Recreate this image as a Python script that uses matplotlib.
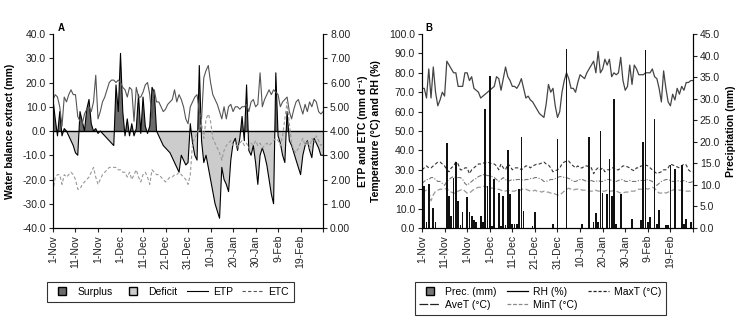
import matplotlib
matplotlib.use('Agg')
import matplotlib.pyplot as plt
import numpy as np
from matplotlib.lines import Line2D
from matplotlib.ticker import FormatStrFormatter

plt.rcParams['font.family'] = ['Liberation Sans', 'DejaVu Sans']
plt.rcParams['font.size'] = 7.5

# ---------------- data ----------------
tick_labels = ["1-Nov", "11-Nov", "1-Nov", "1-Dec", "11-Dec", "21-Dec", "31-Dec",
               "10-Jan", "20-Jan", "30-Jan", "9-Feb", "19-Feb"]

# Panel A: daily water balance (mm)
water_balance = [
    13, 5, -2, 8, -2, 1, 0, -2, -4, -6,
    -9, -10, 8, 4, 0, 9, 13, 3, 0, 1,
    -1, 0, -1, -2, -3, -4, -5, -6, 19, 8,
    32, 8, -2, 5, -2, 3, -2, 1, 15, -1,
    14, 2, -1, 2, 18, 16, 0, -2, -4, -6,
    -7, -8, -9, -11, -13, -15, -17, -10, -12, -14,
    -13, 3, -5, -10, -12, 27, -4, -13, -10, -15,
    -20, -25, -30, -33, -36, -15, -20, -22, -25, -12,
    -5, -3, -8, -3, 6, -4, 19, -8, -10, -6,
    -13, -22, -10, -7, -10, -14, -20, -26, -30, 24,
    -2, -5, -10, -13, 8, -4, -6, -9, -12, -15,
    -18, -10, -6, -4, -8, -11, -3, -5, -7, -10,
    -10]

# Panel A: ETP (mm/d)
etp = [
    5.3, 5.5, 5.4, 5.0, 4.2, 5.4, 5.2, 5.5, 5.7, 5.5,
    5.5, 4.6, 4.4, 4.3, 4.7, 4.9, 5.0, 4.8, 5.2, 6.3,
    4.5, 4.8, 5.2, 5.4, 5.7, 6.0, 6.1, 6.1, 6.0, 6.1,
    6.0, 5.8, 5.7, 5.4, 5.8, 5.7, 4.4, 5.8, 5.4, 5.4,
    5.6, 5.9, 6.0, 5.5, 4.5, 5.7, 5.2, 5.2, 5.0, 4.8,
    4.9, 5.1, 5.2, 5.3, 5.7, 5.2, 5.5, 5.3, 5.0, 4.5,
    4.3, 5.0, 5.2, 5.4, 5.5, 4.8, 4.5, 6.2, 6.5, 6.7,
    6.0, 5.5, 5.3, 5.1, 4.8, 4.5, 5.0, 4.5, 5.0, 5.1,
    4.8, 5.0, 5.0, 4.9, 5.0, 5.0, 5.1, 4.8, 5.2, 5.3,
    5.0, 5.1, 6.4, 5.0, 5.3, 5.5, 5.7, 5.5, 5.7, 5.6,
    5.5, 5.0, 5.2, 5.3, 5.4, 4.8, 4.5, 4.9, 5.2, 5.3,
    5.0, 4.7, 5.1, 4.8, 5.2, 5.0, 5.3, 5.2, 4.8, 4.7,
    4.8]

# Panel A: ETC (mm/d)
etc = [
    1.5, 2.1, 2.2, 2.2, 1.8, 2.2, 2.1, 2.2, 2.3, 2.2,
    2.0, 1.6, 1.6, 1.8, 1.9, 2.0, 2.1, 2.3, 2.5, 2.1,
    1.8, 2.0, 2.2, 2.3, 2.4, 2.5, 2.5, 2.5, 2.5, 2.4,
    2.4, 2.3, 2.3, 2.1, 2.3, 2.0, 2.2, 2.4, 2.1, 1.9,
    2.2, 2.3, 2.1, 1.8, 2.4, 2.3, 2.2, 2.2, 2.1, 2.0,
    1.9, 2.0, 2.1, 2.1, 2.2, 2.2, 2.3, 2.2, 2.1, 2.0,
    1.8, 2.2, 3.5, 3.7, 3.9, 4.1, 4.3, 3.7, 4.5, 4.7,
    4.4, 3.7, 3.5, 3.3, 3.1, 2.8, 3.2, 3.4, 3.5, 3.6,
    3.4, 3.5, 3.3, 3.5, 3.6, 3.4, 3.5, 3.3, 3.5, 3.4,
    3.6, 3.4, 3.5, 3.3, 3.4, 3.5, 3.4, 3.5, 3.6, 3.7,
    3.6, 3.4, 3.8, 4.5, 5.2, 4.3, 3.5, 3.2, 3.1, 3.3,
    3.5, 3.7, 3.4, 3.6, 3.3, 3.7, 3.5, 3.8, 3.6, 3.4,
    3.5]

# Panel B: relative humidity (%)
rh = [
    72, 72, 67, 82, 67, 83, 70, 63, 66, 70,
    68, 86, 84, 82, 80, 80, 73, 73, 73, 80,
    80, 76, 78, 72, 71, 70, 67, 68, 69, 70,
    71, 72, 73, 78, 77, 71, 77, 83, 78, 76,
    73, 73, 72, 74, 77, 72, 67, 68, 66, 65,
    63, 61, 59, 58, 57, 64, 74, 70, 72, 63,
    57, 60, 70, 76, 80, 77, 72, 72, 70, 75,
    79, 78, 77, 80, 82, 84, 86, 80, 91, 80,
    82, 87, 84, 87, 78, 80, 79, 80, 88, 76,
    71, 73, 84, 74, 84, 82, 79, 79, 79, 80,
    80, 80, 82, 78, 77, 72, 65, 81, 72, 65,
    63, 69, 66, 72, 69, 73, 71, 75, 75, 76,
    76]

max_t = [
    30, 31, 32, 31, 31, 32, 33, 34, 34, 33,
    32, 30, 29, 31, 32, 34, 33, 30, 30, 31,
    31, 28, 30, 31, 32, 33, 33, 33.5, 33.5, 34,
    33.5, 33, 33, 32, 30, 33, 31, 30, 33, 32,
    30, 31, 31, 31, 30, 31, 32, 32, 31, 32,
    32.5, 33, 33, 33.5, 34, 33, 32.5, 31, 29, 29.5,
    30, 31, 33, 34, 34.5, 34.5, 33, 32, 31, 32,
    31, 31, 32, 32, 31.5, 31, 28, 30, 31, 30,
    31, 29, 30, 30, 31, 31, 30, 30, 31, 32,
    32, 31.5, 31, 30, 29.5, 31, 31, 32, 32, 32.5,
    32, 31, 30, 29, 28, 28.5, 29, 30, 30, 31,
    33, 32.5, 32, 31.5, 31, 32, 33, 32.5, 30, 29,
    29]

ave_t = [
    23, 24, 25, 25, 26, 26, 25, 24, 24, 23,
    22, 24, 25, 26, 26.5, 26, 26, 26, 25, 23,
    22, 23, 24, 25, 25.5, 26.5, 27, 27.5, 27.5, 27,
    27, 26.5, 26, 25, 24, 25, 26, 25, 24, 24.5,
    25, 24.5, 25, 25, 25, 24.5, 25, 25, 25.5, 25.5,
    26, 26, 25.5, 25, 24, 24, 24.5, 25, 25, 25.5,
    26, 26.5, 26.5, 26, 26, 25.5, 25, 24, 24, 24.5,
    25, 25, 24.5, 24, 24, 24.5, 24, 24, 24.5, 24,
    24, 24.5, 25, 25, 24.5, 24, 24, 24.5, 25, 25,
    24, 24, 24.5, 24, 24, 24, 24.5, 24.5, 24.5, 24.5,
    25, 24.5, 24, 22.5, 22, 23, 24, 24.5, 25, 25,
    24.5, 24, 24, 24.5, 24, 24, 24.5, 24, 23.5, 23.5,
    24]

min_t = [
    19, 19, 19.5, 19, 14, 17, 19, 19.5, 20, 20,
    20, 20.5, 19, 18.5, 18, 18, 19, 19.5, 20, 19,
    18, 18, 19, 20, 20.5, 21, 21, 21.5, 21.5, 21,
    21, 20.5, 20.5, 20, 20, 19.5, 19, 19, 19.5, 19,
    19, 19, 19.5, 19, 20, 20, 20, 19.5, 19, 19,
    19.5, 19, 19, 18.5, 19, 18.5, 18.5, 18, 18, 17.5,
    17, 17, 18, 19, 20, 20.5, 20, 19.5, 20, 20,
    20, 19.5, 19.5, 19.5, 19, 19, 19, 19.5, 19, 19,
    19, 19, 19.5, 19, 19, 19.5, 19, 18.5, 18, 18,
    18.5, 18.5, 19, 19, 19, 19.5, 20, 20, 20, 20.5,
    20, 20.5, 21, 20.5, 19, 18, 18, 18.5, 18, 18.5,
    19, 19.5, 20, 20, 19.5, 19.5, 19, 19, 19, 19,
    19]

# Panel B: precipitation (day index, mm)
prec_day = [0, 1, 2, 3, 5, 6, 11, 12, 13, 14, 15, 16, 17, 18, 20, 21, 22, 23, 24,
            26, 27, 28, 29, 30, 31, 32, 34, 35, 36, 37, 38, 39, 40, 41, 42, 43, 44,
            45, 49, 50, 58, 60, 64, 71, 74, 76, 77, 78, 79, 80, 82, 83, 84, 85, 86,
            88, 93, 97, 98, 99, 100, 101, 103, 104, 105, 108, 109, 110, 112, 115,
            116, 117, 119]
prec_mm = [14.8, 9.7, 1.3, 10.3, 4.6, 1.3, 19.8, 7.5, 2.7, 11.7, 15.4, 6.3, 0.8, 3.8,
           7.2, 3.8, 2.9, 1.9, 1.5, 2.9, 1.5, 27.5, 9.8, 35.2, 0.5, 11.4, 8.2, 0.5,
           7.5, 0.8, 18.2, 7.9, 1.0, 1.0, 1.0, 9.0, 21.0, 3.9, 0.4, 3.8, 0.9, 20.7,
           41.5, 1.0, 21.1, 1.3, 3.5, 1.5, 22.5, 8.1, 7.8, 15.9, 7.5, 30.0, 1.0,
           7.8, 2.1, 1.9, 20.0, 41.4, 1.3, 2.6, 25.4, 0.9, 4.1, 0.8, 0.8, 14.5,
           13.6, 14.5, 1.0, 2.2, 1.5]

# ---------------- figure ----------------
fig = plt.figure(figsize=(7.38, 3.23), dpi=100)
TICK_FS = 7.5
LABEL_FS = 7.5
LEG_FS = 7.5

def style_axis(ax, twin):
    ax.spines['top'].set_visible(False)
    ax.tick_params(axis='both', direction='out', length=3, width=0.8,
                   labelsize=TICK_FS, pad=2, colors='#222222')
    ax.set_xlim(0, 120)
    ax.set_xticks(np.arange(0, 121, 10))
    if not twin:
        ax.set_xticklabels(tick_labels + [""], rotation=90)

# ---- Panel A ----
x_a = np.arange(len(water_balance))
wb = np.array(water_balance, dtype=float)
axA = fig.add_axes([0.0718, 0.2941, 0.366, 0.6006])
axA.fill_between(x_a, wb, 0, where=wb >= 0, interpolate=True, facecolor='#6b6b6b', edgecolor='none')
axA.fill_between(x_a, wb, 0, where=wb <= 0, interpolate=True, facecolor='#cccccc', edgecolor='none')
axA.plot(x_a, wb, color='black', lw=0.8)
axA.axhline(0, color='black', lw=1.0)
axA.set_ylim(-40, 40)
axA.set_yticks(np.arange(-40, 41, 10))
axA.yaxis.set_major_formatter(FormatStrFormatter('%.1f'))
style_axis(axA, False)
axA.set_ylabel('Water balance extract (mm)', fontweight='bold', fontsize=LABEL_FS)
axA.yaxis.set_label_coords(-0.14, 0.5)

axA2 = axA.twinx()
axA2.plot(np.arange(len(etp)), etp, color='#555555', lw=0.8)
axA2.plot(np.arange(len(etc)), etc, color='#999999', lw=0.8, dashes=(3, 2))
axA2.set_ylim(0, 8)
axA2.set_yticks(np.arange(0, 8.01, 1))
axA2.yaxis.set_major_formatter(FormatStrFormatter('%.2f'))
style_axis(axA2, True)
axA2.set_ylabel('ETP and ETC (mm d\u207b\u00b9)', fontweight='bold', fontsize=LABEL_FS)
axA2.yaxis.set_label_coords(1.13, 0.5)

fig.text(58 / 738, 1 - 28 / 323, 'A', fontweight='bold', fontsize=7, ha='left', va='center')

hA = [Line2D([], [], marker='s', ls='none', markerfacecolor='#6b6b6b', markeredgecolor='black', markersize=6),
      Line2D([], [], marker='s', ls='none', markerfacecolor='#cccccc', markeredgecolor='black', markersize=6),
      Line2D([], [], color='black', lw=0.8),
      Line2D([], [], color='#555555', lw=0.8, dashes=(3, 2))]
legA = fig.legend(hA, ['Surplus', 'Deficit', 'ETP', 'ETC'], loc='center',
                  bbox_to_anchor=(0.231, 0.096), ncol=4, frameon=True, fancybox=False,
                  fontsize=LEG_FS, handlelength=2.0, handletextpad=0.5, columnspacing=0.9,
                  borderpad=0.5)
legA.get_frame().set_edgecolor('black')
legA.get_frame().set_linewidth(0.8)

# ---- Panel B ----
axB = fig.add_axes([0.5718, 0.2941, 0.3672, 0.6006])
x_b = np.arange(len(rh))
axB.plot(x_b, rh, color='#444444', lw=0.9)
axB.plot(np.arange(len(max_t)), max_t, color='#333333', lw=0.8, dashes=(3, 2))
axB.plot(np.arange(len(ave_t)), ave_t, color='#777777', lw=0.8, dashes=(4, 1.5, 1, 1.5))
axB.plot(np.arange(len(min_t)), min_t, color='#999999', lw=0.9, dashes=(4, 2))
axB.set_ylim(0, 100)
axB.set_yticks(np.arange(0, 101, 10))
axB.yaxis.set_major_formatter(FormatStrFormatter('%.1f'))
style_axis(axB, False)
axB.set_ylabel('Temperature (\u00b0C) and RH (%)', fontweight='bold', fontsize=LABEL_FS)
axB.yaxis.set_label_coords(-0.15, 0.5)

axB2 = axB.twinx()
axB2.bar(prec_day, prec_mm, width=0.75, color='#111111', edgecolor='none')
axB2.set_ylim(0, 45)
axB2.set_yticks(np.arange(0, 45.1, 5))
axB2.yaxis.set_major_formatter(FormatStrFormatter('%.1f'))
style_axis(axB2, True)
axB2.set_ylabel('Precipitation (mm)', fontweight='bold', fontsize=LABEL_FS)
axB2.yaxis.set_label_coords(1.12, 0.5)

fig.text(425 / 738, 1 - 28 / 323, 'B', fontweight='bold', fontsize=7, ha='left', va='center')

hB = [Line2D([], [], marker='s', ls='none', markerfacecolor='#777777', markeredgecolor='black', markersize=6),
      Line2D([], [], color='#222222', lw=0.9, dashes=(7, 1.5)),
      Line2D([], [], color='black', lw=0.9),
      Line2D([], [], color='#888888', lw=0.9, dashes=(3, 1.5)),
      Line2D([], [], color='#222222', lw=0.9, dashes=(2.5, 1.5))]
lB = ['Prec. (mm)', 'AveT (\u00b0C)', 'RH (%)', 'MinT (\u00b0C)', 'MaxT (\u00b0C)']
legB = fig.legend(hB, lB, loc='center', bbox_to_anchor=(0.7324, 0.076), ncol=3,
                  frameon=True, fancybox=False, fontsize=LEG_FS, handlelength=2.0,
                  handletextpad=0.5, columnspacing=1.0, borderpad=0.45, labelspacing=0.3)
legB.get_frame().set_edgecolor('black')
legB.get_frame().set_linewidth(0.8)

fig.savefig('out.png', dpi=100)
